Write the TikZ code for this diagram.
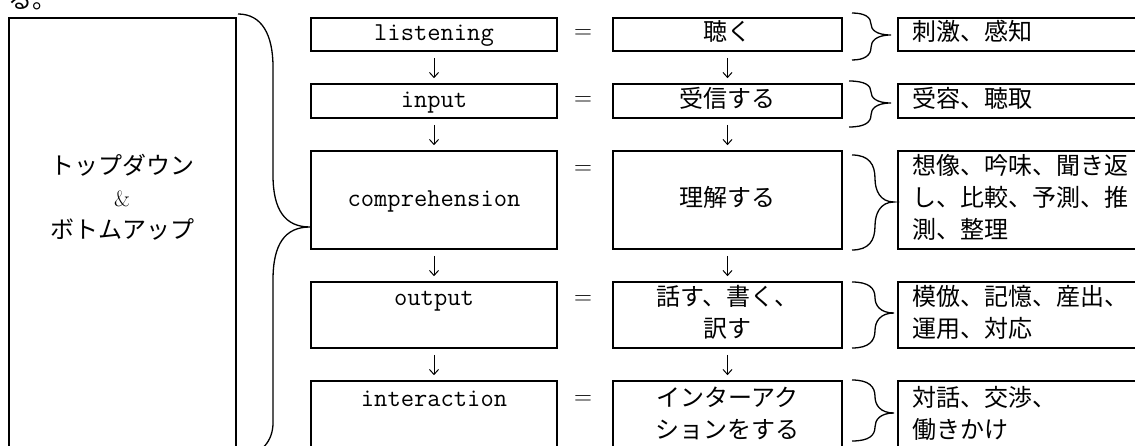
\documentclass[tikz,border=0pt]{standalone}
\usepackage{fontspec}
\newfontfamily\jp{Noto Sans CJK JP}
\usetikzlibrary{arrows.meta}
\newcommand\dgfs{\fontsize{24}{32}\selectfont}
\newcommand\dgtt{\fontsize{25.8}{32}\selectfont\ttfamily}
\newcommand\dgbrace[6]{%
  \draw[brace] (#1,#4) .. controls ({#2-6},#4) and (#2,{#4+0.2*(#5-#4)}) .. (#2,{0.5*(#4+#5)})
    .. controls (#2,{#5-0.25*(#5-#4)}) and ({#2+5},#5) .. (#3,#5)
    .. controls ({#2+5},#5) and (#2,{#5+0.25*(#6-#5)}) .. (#2,{0.5*(#5+#6)})
    .. controls (#2,{#6-0.2*(#6-#5)}) and ({#2-6},#6) .. (#1,#6);}
\begin{document}
\begin{tikzpicture}[x=1pt,y=-1pt,
  box/.style={draw, line width=1.6pt, inner sep=0pt, align=center},
  colA/.style={box, minimum width=246pt, font=\dgtt},
  colB/.style={box, minimum width=229pt, font=\dgfs\jp},
  colC/.style={box, anchor=west, text width=220pt, inner xsep=15pt, inner ysep=0pt, align=left, font=\dgfs\jp},
  arr/.style={-{Straight Barb[length=5pt,width=9pt]}, line width=1pt, shorten <=6pt, shorten >=5pt},
  eq/.style={font=\fontsize{30}{32}\selectfont, inner sep=0pt},
  brace/.style={line width=1.3pt}]
\useasboundingbox (0,0) rectangle (1135,446);

% clipped fragment at the top
\node[anchor=base west, font=\dgfs\jp, inner sep=0pt] (frag) at (8,9) {る。};

% left box
\node[box, minimum width=227pt, minimum height=440pt] (td) at (122.5,238) {};
\node[font=\dgfs\jp, align=center, inner sep=0pt] (tdl) at (122,200)
  {\strut トップダウン\\\strut{\rmfamily\fontsize{22}{32}\selectfont\&}\\\strut ボトムアップ};

% big brace
\draw[brace] (238,14) .. controls (262,14) and (273,35) .. (273,67) -- (273,175)
  .. controls (273,210) and (285,227) .. (310,227)
  .. controls (285,227) and (273,244) .. (273,280) -- (273,423)
  .. controls (273,440) and (262,456) .. (240,456);

% column 1
\node[colA, minimum height=33pt] (a1) at (434,34.5) {\strut listening};
\node[colA, minimum height=34pt] (a2) at (434,101) {\strut input};
\node[colA, minimum height=98pt] (a3) at (434,200) {\strut comprehension};
\node[colA, minimum height=66pt] (a4) at (434,315) {\strut output\\\strut};
\node[colA, minimum height=71pt] (a5) at (434,416.5) {\strut interaction\\\strut};

% column 2
\node[colB, minimum height=33pt] (b1) at (727.5,34.5) {\strut 聴く};
\node[colB, minimum height=34pt] (b2) at (727.5,101) {\strut 受信する};
\node[colB, minimum height=98pt] (b3) at (727.5,200) {\strut 理解する};
\node[colB, minimum height=66pt] (b4) at (727.5,315) {\strut 話す、書く、\\\strut 訳す};
\node[colB, minimum height=71pt] (b5) at (727.5,416.5) {\strut インターアク\\\strut ションをする};

% column 3
\node[colC, minimum height=33pt] (c1) at (897,34.5) {\strut 刺激、感知};
\node[colC, minimum height=34pt] (c2) at (897,101) {\strut 受容、聴取};
\node[colC, minimum height=98pt] (c3) at (897,200) {\strut 想像、吟味、聞き返\\\strut し、比較、予測、推\\\strut 測、整理};
\node[colC, minimum height=66pt] (c4) at (897,315) {\strut 模倣、記憶、産出、\\\strut 運用、対応};
\node[colC, minimum height=71pt] (c5) at (897,416.5) {\strut 対話、交渉、\\\strut 働きかけ};

% equals signs
\node[eq] (e1) at (583,34) {$=$};
\node[eq] (e2) at (583,101) {$=$};
\node[eq] (e3) at (583,170) {$=$};
\node[eq] (e4) at (583,300) {$=$};
\node[eq] (e5) at (583,400) {$=$};

% arrows
\draw[arr] (a1) -- (a2);
\draw[arr] (a2) -- (a3);
\draw[arr] (a3) -- (a4);
\draw[arr] (a4) -- (a5);
\draw[arr] (b1) -- (b2);
\draw[arr] (b2) -- (b3);
\draw[arr] (b3) -- (b4);
\draw[arr] (b4) -- (b5);

% small braces
\dgbrace{852}{871}{891}{13}{35}{60}
\dgbrace{849}{871}{891}{81}{103}{127}
\dgbrace{852}{875}{894}{155}{202}{250}
\dgbrace{852}{875}{894}{282}{313}{348}
\dgbrace{852}{875}{894}{380}{413}{441}
\end{tikzpicture}
\end{document}
